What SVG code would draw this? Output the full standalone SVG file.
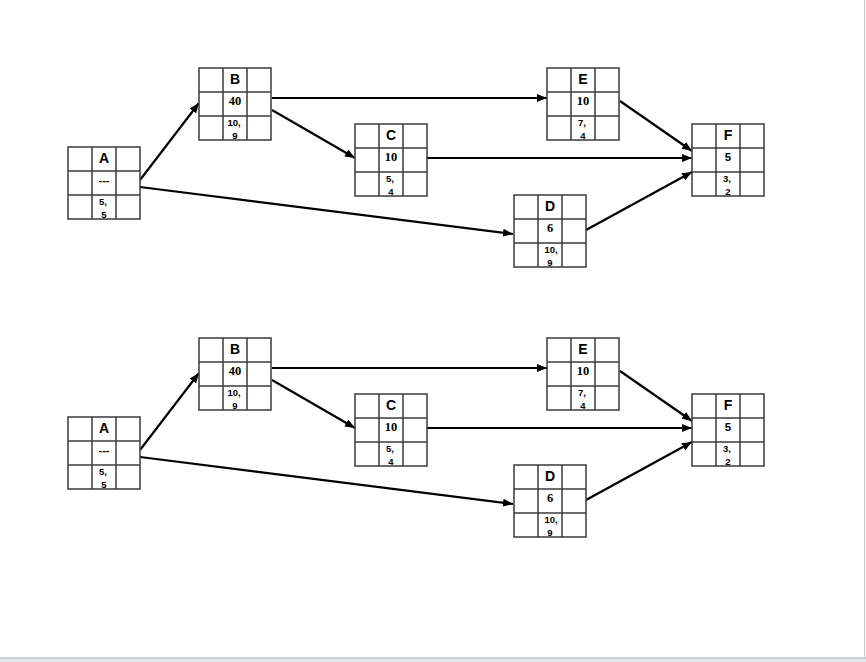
<svg xmlns="http://www.w3.org/2000/svg" width="866" height="662" viewBox="0 0 866 662">
<style>
.cell{fill:#fff;stroke:#3a3a3a;stroke-width:1.5}
.ln{stroke:#3a3a3a;stroke-width:1.5}
.lt{font-family:"Liberation Sans",Arial,sans-serif;font-weight:bold;font-size:14px;text-anchor:middle;fill:#000}
.num{font-family:"Liberation Serif","Times New Roman",serif;font-weight:bold;font-size:12.5px;text-anchor:middle;fill:#000}
.sm{font-family:"Liberation Sans",Arial,sans-serif;font-weight:bold;font-size:9.5px;text-anchor:middle;fill:#000}
.dash{font-family:"Liberation Sans",Arial,sans-serif;font-weight:bold;font-size:11px;text-anchor:middle;fill:#000}
.cn{fill:none;stroke:#000;stroke-width:2.2;marker-end:url(#ah)}
</style>
<defs>
<marker id="ah" markerUnits="userSpaceOnUse" markerWidth="10" markerHeight="8" refX="10" refY="4" orient="auto">
<path d="M0,0 L10,4 L0,8 Z" fill="#000"/>
</marker>
<g id="grid">
<rect class="cell" x="0" y="0" width="72" height="72"/>
<line class="ln" x1="24" y1="0" x2="24" y2="72"/>
<line class="ln" x1="48" y1="0" x2="48" y2="72"/>
<line class="ln" x1="0" y1="24" x2="72" y2="24"/>
<line class="ln" x1="0" y1="48" x2="72" y2="48"/>
</g>
<clipPath id="cp"><rect x="0" y="0" width="72" height="71.5"/></clipPath>
</defs>
<rect x="0" y="0" width="866" height="662" fill="#fff"/>
<rect x="0" y="658" width="866" height="4" fill="#e6e7ec"/>
<line x1="0" y1="658" x2="866" y2="658" stroke="#a9acb6" stroke-width="1"/>
<line x1="864.5" y1="0" x2="864.5" y2="658" stroke="#c8cad0" stroke-width="1"/>

<g id="connectors">
<path class="cn" d="M140,180 L199,103"/>
<path class="cn" d="M140,187 L513,234"/>
<path class="cn" d="M272,98 L547,98"/>
<path class="cn" d="M272,110 L355,158"/>
<path class="cn" d="M427,158 L692,158"/>
<path class="cn" d="M620,101 L692,151"/>
<path class="cn" d="M586,230 L692,172"/>
<path class="cn" d="M140,450 L199,373"/>
<path class="cn" d="M140,457 L513,504"/>
<path class="cn" d="M272,368 L547,368"/>
<path class="cn" d="M272,380 L355,428"/>
<path class="cn" d="M427,428 L692,428"/>
<path class="cn" d="M620,371 L692,421"/>
<path class="cn" d="M586,500 L692,442"/>
</g>

<g id="A1" transform="translate(68,147)"><use href="#grid"/><text class="lt" x="36" y="16">A</text><text class="dash" x="36" y="37">---</text><g clip-path="url(#cp)"><text class="sm" x="35" y="58">5,</text><text class="sm" x="36" y="70.5">5</text></g></g>
<g id="B1" transform="translate(199,68)"><use href="#grid"/><text class="lt" x="36" y="16">B</text><text class="num" x="36" y="37">40</text><g clip-path="url(#cp)"><text class="sm" x="35" y="58">10,</text><text class="sm" x="36" y="70.5">9</text></g></g>
<g id="C1" transform="translate(355,124)"><use href="#grid"/><text class="lt" x="36" y="16">C</text><text class="num" x="36" y="37">10</text><g clip-path="url(#cp)"><text class="sm" x="35" y="58">5,</text><text class="sm" x="36" y="70.5">4</text></g></g>
<g id="D1" transform="translate(514,195)"><use href="#grid"/><text class="lt" x="36" y="16">D</text><text class="num" x="36" y="37">6</text><g clip-path="url(#cp)"><text class="sm" x="37" y="58">10,</text><text class="sm" x="36" y="70.5">9</text></g></g>
<g id="E1" transform="translate(547,68)"><use href="#grid"/><text class="lt" x="36" y="16">E</text><text class="num" x="36" y="37">10</text><g clip-path="url(#cp)"><text class="sm" x="35" y="58">7,</text><text class="sm" x="36" y="70.5">4</text></g></g>
<g id="F1" transform="translate(692,124)"><use href="#grid"/><text class="lt" x="36" y="16">F</text><text class="sm" x="36" y="37" style="font-size:11.5px">5</text><g clip-path="url(#cp)"><text class="sm" x="35" y="58">3,</text><text class="sm" x="36" y="70.5">2</text></g></g>

<g id="A2" transform="translate(68,417)"><use href="#grid"/><text class="lt" x="36" y="16">A</text><text class="dash" x="36" y="37">---</text><g clip-path="url(#cp)"><text class="sm" x="35" y="58">5,</text><text class="sm" x="36" y="70.5">5</text></g></g>
<g id="B2" transform="translate(199,338)"><use href="#grid"/><text class="lt" x="36" y="16">B</text><text class="num" x="36" y="37">40</text><g clip-path="url(#cp)"><text class="sm" x="35" y="58">10,</text><text class="sm" x="36" y="70.5">9</text></g></g>
<g id="C2" transform="translate(355,394)"><use href="#grid"/><text class="lt" x="36" y="16">C</text><text class="num" x="36" y="37">10</text><g clip-path="url(#cp)"><text class="sm" x="35" y="58">5,</text><text class="sm" x="36" y="70.5">4</text></g></g>
<g id="D2" transform="translate(514,465)"><use href="#grid"/><text class="lt" x="36" y="16">D</text><text class="num" x="36" y="37">6</text><g clip-path="url(#cp)"><text class="sm" x="37" y="58">10,</text><text class="sm" x="36" y="70.5">9</text></g></g>
<g id="E2" transform="translate(547,338)"><use href="#grid"/><text class="lt" x="36" y="16">E</text><text class="num" x="36" y="37">10</text><g clip-path="url(#cp)"><text class="sm" x="35" y="58">7,</text><text class="sm" x="36" y="70.5">4</text></g></g>
<g id="F2" transform="translate(692,394)"><use href="#grid"/><text class="lt" x="36" y="16">F</text><text class="sm" x="36" y="37" style="font-size:11.5px">5</text><g clip-path="url(#cp)"><text class="sm" x="35" y="58">3,</text><text class="sm" x="36" y="70.5">2</text></g></g>
</svg>
